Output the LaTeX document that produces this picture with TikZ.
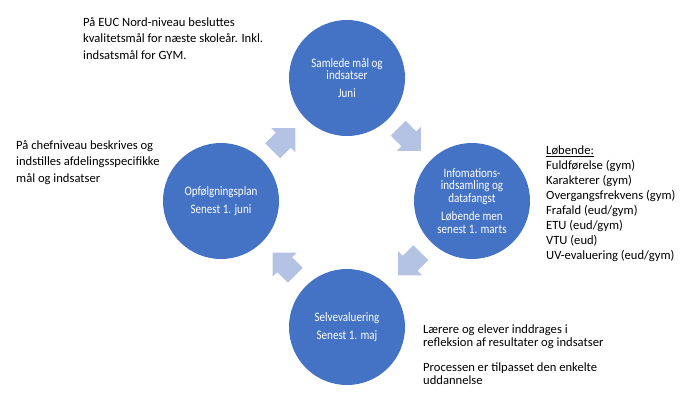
\documentclass[tikz,border=0pt]{standalone}
\usepackage{fontspec}
\setmainfont{Carlito}
\newfontfamily\circfont[FakeStretch=0.85]{Carlito}
\usetikzlibrary{calc}
\definecolor{circblue}{HTML}{4472C4}
\definecolor{arrowblue}{HTML}{B4C3E4}
\begin{document}
\begin{tikzpicture}[x=1pt,y=-1pt,
  circ/.style={circle, fill=circblue, minimum size=116pt, inner sep=0pt, text=white, align=center, font=\circfont\fontsize{13}{12.3}\selectfont},
  blockarrow/.style={fill=arrowblue},
  note/.style={align=left, inner sep=0pt, anchor=base west, font=\fontsize{12.6}{16.5}\selectfont}]
\useasboundingbox (0,0) rectangle (690,407);
\node[circ] (top) at (347,78) {Samlede mål og\\indsatser\\[6pt]Juni};
\node[circ] (right) at (472,201) {Infomations-\\indsamling og\\datafangst\\[6.5pt]Løbende men\\senest 1. marts};
\node[circ] (bottom) at (347,327) {Selvevaluering\\[6.5pt]Senest 1. maj};
\node[circ] (left) at (221,201) {Opfølgningsplan\\[6.5pt]Senest 1. juni};
\coordinate (m1) at ($(top)!0.5!(right)$);
\coordinate (m2) at ($(right)!0.5!(bottom)$);
\coordinate (m3) at ($(bottom)!0.5!(left)$);
\coordinate (m4) at ($(left)!0.5!(top)$);
\foreach \m/\ang in {m1/-45, m2/-135, m3/135, m4/45}{
  \fill[blockarrow, shift={(\m)}, rotate=\ang]
    (16,0) -- (-1,17) -- (-1,10.5) -- (-16,10.5) -- (-16,-10.5) -- (-1,-10.5) -- (-1,-17) -- cycle;
}
\node[note] (tnote) at (83,59) {På EUC Nord-niveau besluttes\\kvalitetsmål for næste skoleår. Inkl.\\indsatsmål for GYM.};
\node[note] (lnote) at (16,182) {På chefniveau beskrives og\\indstilles afdelingsspecifikke\\mål og indsatser};
\node[note, font=\fontsize{12.6}{15}\selectfont] (rnote) at (546,259.5) {\underline{Løbende:}\\Fuldførelse (gym)\\Karakterer (gym)\\Overgangsfrekvens (gym)\\Frafald (eud/gym)\\ETU (eud/gym)\\VTU (eud)\\UV-evaluering (eud/gym)};
\node[note, font=\fontsize{12.6}{13.6}\selectfont] (bnote) at (423,384.6) {Lærere og elever inddrages i\\refleksion af resultater og indsatser\\[10.5pt]Processen er tilpasset den enkelte\\uddannelse};
\end{tikzpicture}
\end{document}
